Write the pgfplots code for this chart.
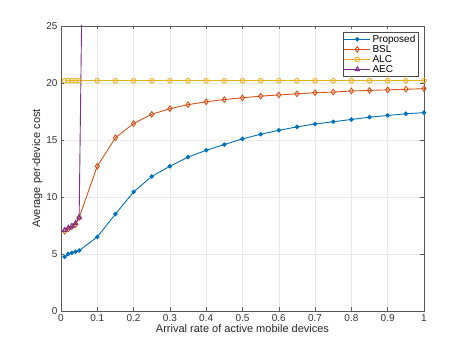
\documentclass[border=0pt]{standalone}
\usepackage{fontspec}
\setmainfont{Liberation Sans}
\usepackage{pgfplots}
\pgfplotsset{compat=1.18}

\definecolor{mblue}{rgb}{0,0.447,0.741}
\definecolor{morange}{rgb}{0.85,0.325,0.098}
\definecolor{myellow}{rgb}{0.929,0.694,0.125}
\definecolor{mpurple}{rgb}{0.494,0.184,0.556}

\begin{document}
\begin{tikzpicture}
\begin{axis}[
    scale only axis,
    width=363pt, height=285pt,
    xmin=0, xmax=1, ymin=0, ymax=25,
    xtick={0,0.1,...,1}, ytick={0,5,...,25},
    xlabel={Arrival rate of active mobile devices},
    ylabel={Average per-device cost},
    grid=major,
    major grid style={gray!18, line width=0.4pt},
    axis line style={gray!70!black, line width=0.5pt},
    tick style={gray!70!black, line width=0.5pt},
    tick align=inside,
    major tick length=3.5pt,
    ticklabel style={font=\fontsize{10}{12}\selectfont, text=black!80},
    label style={font=\fontsize{11}{13}\selectfont, text=black!85},
    xlabel style={yshift=4pt},
    ylabel style={yshift=-3pt},
    /pgf/number format/assume math mode=true,
    clip=true,
    legend style={at={(0.985,0.98)}, anchor=north east, font=\fontsize{10}{12}\selectfont,
        draw=gray!60!black, line width=0.4pt, inner sep=1pt, row sep=-2.5pt},
    legend cell align=left,
    legend image code/.code={
        \draw[mark repeat=2,mark phase=2] plot coordinates {(0cm,0cm) (0.45cm,0cm) (0.9cm,0cm)};
    },
    every axis plot/.append style={line width=0.9pt},
]
\addplot[color=mblue, mark=*, mark size=1.8pt] coordinates {
(0.01,4.75)(0.02,5.0)(0.03,5.1)(0.04,5.2)(0.05,5.3)(0.1,6.5)(0.15,8.5)(0.2,10.45)
(0.25,11.8)(0.3,12.7)(0.35,13.5)(0.4,14.1)(0.45,14.6)(0.5,15.1)(0.55,15.5)(0.6,15.85)
(0.65,16.15)(0.7,16.4)(0.75,16.6)(0.8,16.8)(0.85,17.0)(0.9,17.15)(0.95,17.3)(1.0,17.4)
};
\addlegendentry{Proposed}
\addplot[color=morange, mark=diamond, mark size=2.8pt] coordinates {
(0.01,7.0)(0.02,7.2)(0.03,7.4)(0.04,7.6)(0.05,8.2)(0.1,12.7)(0.15,15.2)(0.2,16.45)
(0.25,17.25)(0.3,17.75)(0.35,18.1)(0.4,18.35)(0.45,18.55)(0.5,18.7)(0.55,18.85)(0.6,18.95)
(0.65,19.05)(0.7,19.15)(0.75,19.2)(0.8,19.3)(0.85,19.35)(0.9,19.4)(0.95,19.45)(1.0,19.5)
};
\addlegendentry{BSL}
\addplot[color=myellow, mark=o, mark size=2.3pt] coordinates {
(0.01,20.2)(0.02,20.2)(0.03,20.2)(0.04,20.2)(0.05,20.2)(0.1,20.2)(0.15,20.2)(0.2,20.2)
(0.25,20.2)(0.3,20.2)(0.35,20.2)(0.4,20.2)(0.45,20.2)(0.5,20.2)(0.55,20.2)(0.6,20.2)
(0.65,20.2)(0.7,20.2)(0.75,20.2)(0.8,20.2)(0.85,20.2)(0.9,20.2)(0.95,20.2)(1.0,20.2)
};
\addlegendentry{ALC}
\addplot[color=mpurple, mark=triangle, mark size=2.6pt] coordinates {
(0.01,7.1)(0.02,7.3)(0.03,7.45)(0.04,7.7)(0.05,8.2)(0.1,135)
};
\addlegendentry{AEC}
\end{axis}
\path[use as bounding box] (-61pt,-39pt) rectangle (406pt,311pt);
\end{tikzpicture}
\end{document}
